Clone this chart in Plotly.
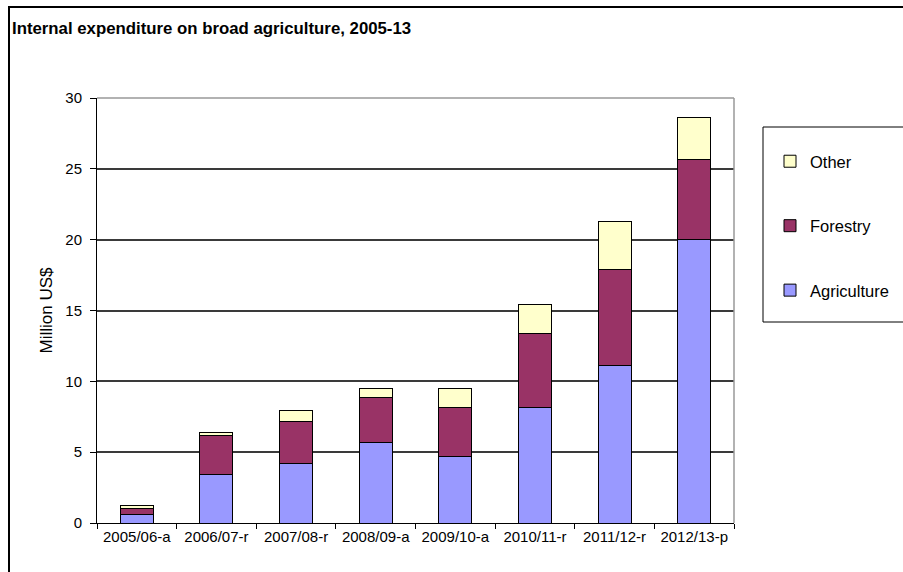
import plotly.graph_objects as go

categories = ["2005/06-a", "2006/07-r", "2007/08-r", "2008/09-a", "2009/10-a", "2010/11-r", "2011/12-r", "2012/13-p"]
agriculture = [0.63, 3.45, 4.22, 5.70, 4.69, 8.17, 11.13, 20.00]
forestry = [0.40, 2.72, 2.94, 3.15, 3.48, 5.23, 6.77, 5.68]
other = [0.24, 0.22, 0.75, 0.61, 1.29, 2.00, 3.40, 2.92]

series = [
    ("Agriculture", agriculture, "#9999FF", 3),
    ("Forestry", forestry, "#993366", 2),
    ("Other", other, "#FFFFCC", 1),
]

FONT = "Liberation Sans, Arial, sans-serif"

fig = go.Figure()
for name, vals, color, rank in series:
    fig.add_trace(go.Bar(
        x=categories, y=vals, name=name, legendgroup=name, legendrank=rank,
        marker=dict(color=color, line=dict(color="black", width=1)),
    ))

W, H = 903, 572
L, R, T, B = 97, 734, 98, 523
pw, ph = R - L, B - T

def px(x):
    return (x - L) / pw

def py(y):
    return 1 - (y - T) / ph

fig.update_layout(
    width=W, height=H,
    margin=dict(l=L, r=W - R, t=T, b=H - B, pad=0, autoexpand=False),
    paper_bgcolor="white", plot_bgcolor="white",
    barmode="stack", bargap=0.586,
    font=dict(family=FONT, size=15, color="black"),
    title=dict(
        text="<b>Internal expenditure on broad agriculture, 2005-13</b>",
        x=12 / W, xanchor="left", xref="container",
        y=1 - 28 / H, yanchor="middle", yref="container",
        font=dict(family=FONT, size=16.8, color="black"),
    ),
    xaxis=dict(
        showline=True, linecolor="black", linewidth=1,
        ticks="outside", tickson="boundaries", ticklen=5, tickcolor="black",
        showgrid=False, tickfont=dict(size=15),
    ),
    yaxis=dict(
        range=[0, 30], dtick=5, tick0=0,
        showline=True, linecolor="black", linewidth=1,
        ticks="outside", ticklen=6, tickcolor="black",
        ticklabelstandoff=5,
        showgrid=True, gridcolor="#3a3a3a", gridwidth=1.5,
        zeroline=False, tickfont=dict(size=15),
        title=dict(text="Million US$", font=dict(size=17), standoff=8),
    ),
    legend=dict(
        x=px(770), y=py(144), xanchor="left", yanchor="top",
        traceorder="grouped", tracegroupgap=40,
        bgcolor="rgba(0,0,0,0)", borderwidth=0,
        font=dict(family=FONT, size=16.5),
    ),
    shapes=[
        dict(type="line", xref="paper", yref="paper", x0=0, x1=1, y0=1, y1=1,
             line=dict(color="#999999", width=1.5), layer="above"),
        dict(type="line", xref="paper", yref="paper", x0=1, x1=1, y0=0, y1=1,
             line=dict(color="#999999", width=1.5), layer="above"),
        dict(type="rect", xref="paper", yref="paper",
             x0=px(763), x1=px(950), y0=py(322), y1=py(127),
             line=dict(color="black", width=1), fillcolor="rgba(0,0,0,0)"),
        dict(type="rect", xref="paper", yref="paper",
             x0=px(9), x1=px(1000), y0=py(700), y1=py(7),
             line=dict(color="black", width=2), fillcolor="rgba(0,0,0,0)"),
    ],
)

fig.write_html("out.html")
